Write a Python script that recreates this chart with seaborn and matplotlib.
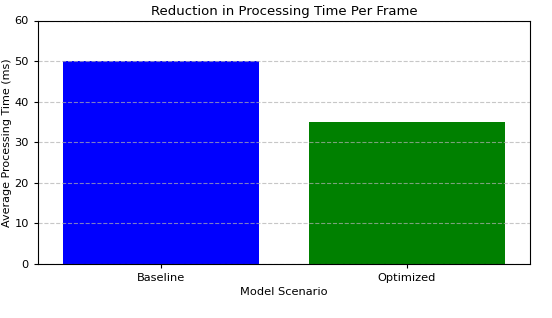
import matplotlib
matplotlib.use("Agg")
import matplotlib.pyplot as plt
import pandas as pd
import seaborn as sns

scenarios = ["Baseline", "Optimized"]
times_ms = [50, 35]
bar_colors = ["blue", "green"]

df = pd.DataFrame({"Model Scenario": scenarios, "Time": times_ms})

sns.set_style("ticks")
plt.rcParams["font.family"] = ["DejaVu Sans"]

fig, ax = plt.subplots(figsize=(5.52, 3.18), dpi=100)
sns.barplot(data=df, x="Model Scenario", y="Time", hue="Model Scenario",
            palette=bar_colors, saturation=1, width=0.8, legend=False,
            linewidth=0, ax=ax)
ax.set_ylim(0, 60)
ax.set_title("Reduction in Processing Time Per Frame", fontsize=9.5, pad=4, color="black")
ax.set_xlabel("Model Scenario", fontsize=8.2, labelpad=3, color="black")
ax.set_ylabel("Average Processing Time (ms)", fontsize=8, labelpad=2, color="black")
ax.tick_params(labelsize=8.2, length=3, width=0.8, colors="black")
ax.set_axisbelow(False)
ax.grid(axis="y", linestyle="--", color="#b0b0b0", alpha=0.7, linewidth=0.8)
for s in ax.spines.values():
    s.set_linewidth(0.8)
    s.set_color("black")
    s.set_zorder(5)

fig.subplots_adjust(left=38/552, right=530/552, top=1-20.5/318, bottom=1-264/318)
fig.savefig("out.png", dpi=100)
